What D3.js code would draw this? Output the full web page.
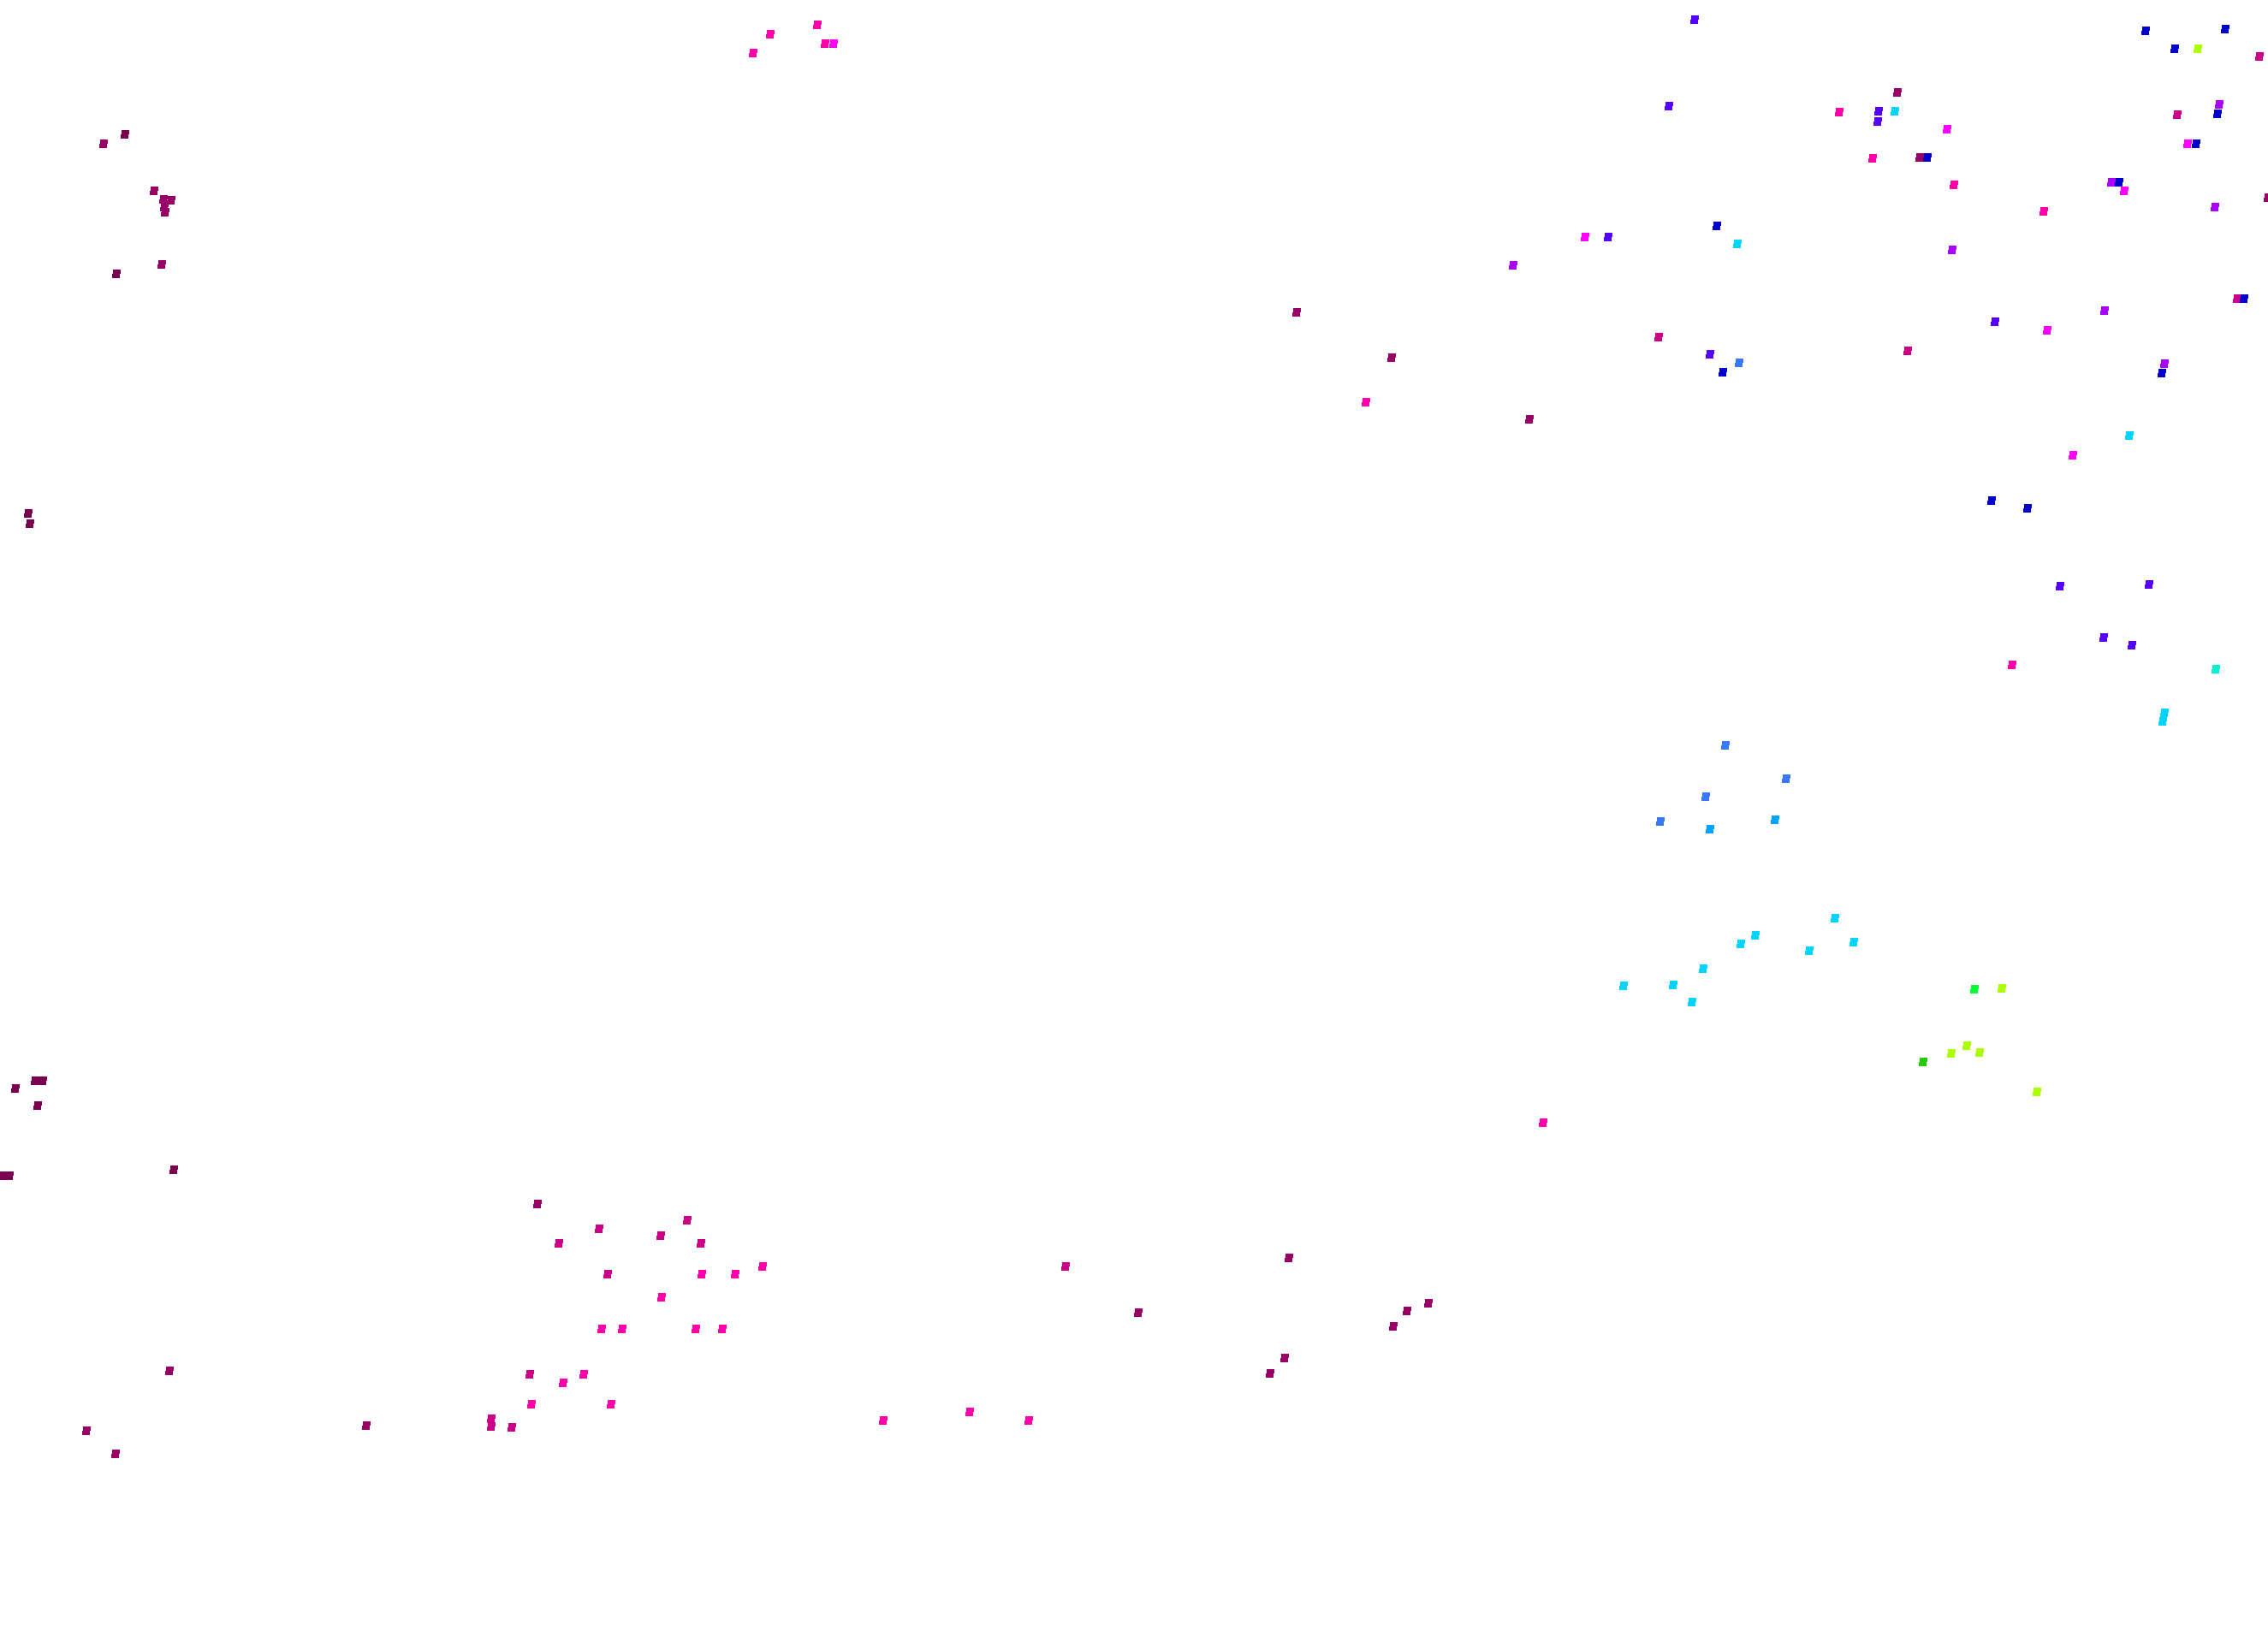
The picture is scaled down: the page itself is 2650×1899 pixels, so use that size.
<!DOCTYPE html>
<html>
<head>
<meta charset="utf-8">
<script src="https://cdn.jsdelivr.net/npm/d3@7"></script>
<style>
  html, body { margin: 0; padding: 0; background: #ffffff; }
  svg { display: block; }
</style>
</head>
<body>
<script>
// ---- DATA ----
const groupNames  = ["g0","g1","g2","g3","g4","g5","g6","g7","g8","g9","g10","g11","g12","g13","g14"];
const groupColors = ["#7a0050","#990066","#cc0088","#ff00aa","#ff00ff","#aa00ff","#5500ff","#0000cc",
                     "#3778ff","#00a4ff","#00d4ff","#00f2d2","#00ff33","#aaff00","#22cc00"];

const pointX = [
  145,120,179,190,199,191,192,188,135,32,34,
  879,954,899,963,973,1767,1514,1625,1595,
  40,49,17,43,3,10,202,627,
  699,802,652,771,818,709,
  819,858,772,702,726,812,843,
  197,618,681,657,620,713,
  573,573,597,427,100,134,
  890,1244,1505,1329,1668,1643,1627,1500,1483,
  1031,1132,1201,2379,1802,
  2406,2510,2457,2490,2350,2588,2528,2526,
  2015,2086,1992,1939,1997,2073,
  2143,2050,2033,2113,2165,1989,1896,1954,1976,
  2306,2338,2297,2279,2312,2246,
  1979,2506,2599,2540,2567,2639,
  2216,1949,2148,2194,2193,2213,
  2592,2590,2543,2274,2555,2565,
  2187,2242,2251,2282,2466,2475,2481,
  2387,2587,2649,2005,1851,1878,2029,2280,
  2613,2621,2458,2330,2391,1937,1997,2031,2012,2228,2528,2525,1786,2487,2421,2326,2368
];
const pointY = [
  157,168,223,233,234,242,248,309,320,600,612,
  62,29,40,51,51,310,365,418,470,
  1263,1263,1272,1292,1374,1374,1367,1407,
  1436,1426,1453,1444,1453,1489,
  1489,1489,1516,1553,1553,1553,1553,
  1602,1606,1606,1616,1641,1641,
  1658,1667,1668,1666,1672,1699,
  1480,1480,1470,1534,1523,1532,1550,1587,1605,
  1660,1650,1660,1276,1312,
  685,683,745,754,777,782,833,843,
  871,910,931,960,969,958,
  1073,1093,1103,1111,1101,1132,1152,1151,1171,
  1156,1155,1222,1231,1230,1241,
  23,36,34,57,57,66,
  108,124,131,130,142,130,
  122,133,134,151,168,168,
  185,184,184,216,213,213,223,
  247,242,231,264,277,277,285,292,
  349,349,363,376,386,394,414,424,435,410,425,436,490,509,532,585,594
];
const pointGroup = [
  0,1,1,1,1,1,1,1,0,0,0,
  3,3,3,3,4,5,1,1,3,
  0,0,0,0,0,0,0,1,
  2,2,2,2,2,2,
  3,3,3,3,3,3,3,
  1,2,3,3,3,3,
  2,2,2,1,1,1,
  3,2,1,1,1,1,1,1,1,
  3,3,3,13,3,
  6,6,6,6,3,11,10,10,
  8,8,8,8,9,9,
  10,10,10,10,10,10,10,10,10,
  12,13,13,13,13,14,
  6,7,7,7,13,2,
  1,6,3,6,6,10,
  5,7,2,4,4,7,
  3,1,7,3,5,7,4,
  3,5,1,7,4,6,10,5,
  2,7,5,6,4,2,6,8,7,2,5,7,1,10,4,7,7
];

// ---- CHART ----
const W = 2650, H = 1899;
const svg = d3.select("body").append("svg")
  .attr("width", W).attr("height", H)
  .style("background", "#ffffff");

const x = d3.scaleLinear().domain([0, 2650]).range([0, W]);
const y = d3.scaleLinear().domain([0, 1899]).range([0, H]);
const color = d3.scaleOrdinal().domain(groupNames).range(groupColors);

const points = pointX.map((v, i) => ({ x: v, y: pointY[i], g: groupNames[pointGroup[i]] }));

// small slightly sheared square marker
const mw = 9, mh = 10, shear = 2;
const marker = `M${-mw/2},${mh/2} L${mw/2},${mh/2} L${mw/2 + shear},${-mh/2} L${-mw/2 + shear},${-mh/2} Z`;

svg.append("g")
  .selectAll("path")
  .data(points)
  .join("path")
  .attr("d", marker)
  .attr("transform", d => `translate(${x(d.x)},${y(d.y)})`)
  .attr("fill", d => color(d.g))
  .attr("shape-rendering", "crispEdges");
</script>
</body>
</html>
